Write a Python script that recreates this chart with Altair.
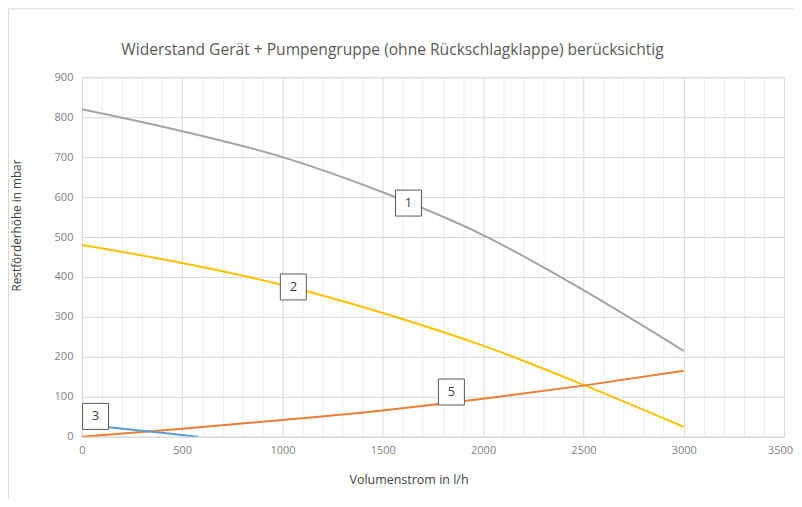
import altair as alt
import pandas as pd

# Flow rate (l/h) sample points
flow = [0, 500, 1000, 1500, 2000, 2500, 3000]
curve1 = [820, 765, 700, 612, 505, 367, 215]
curve2 = [480, 435, 380, 310, 228, 130, 25]
curve5 = [0, 20, 42, 66, 95, 128, 165]
flow3 = [0, 300, 580]
curve3 = [31, 15, 0]

label_text = ["1", "2", "3", "5"]
label_x = [1628, 1054, 68, 1842]
label_y = [585, 375, 51, 112]

title_text = "Widerstand Gerät + Pumpengruppe (ohne Rückschlagklappe) berücksichtig"

series_names = ["1", "2", "5"]
rows = []
for name, vals in zip(series_names, [curve1, curve2, curve5]):
    for f, v in zip(flow, vals):
        rows.append({"flow": f, "head": v, "series": name})
for f, v in zip(flow3, curve3):
    rows.append({"flow": f, "head": v, "series": "3"})
df = pd.DataFrame(rows)
labels = pd.DataFrame({"t": label_text, "flow": label_x, "head": label_y})

FONT = "Open Sans"
grid_cond = {"condition": {"test": "datum.value % 500 === 0", "value": "#d9d9d9"}, "value": "#ededed"}
last_off = {"condition": {"test": "datum.value === 3500", "value": -4}, "value": 0}

xscale = alt.Scale(domain=[0, 3500], nice=False)
yscale = alt.Scale(domain=[0, 900], nice=False)

xaxis = alt.Axis(values=list(range(0, 3600, 100)),
                 labelExpr="datum.value % 500 === 0 ? datum.label : ''",
                 format="d", grid=True, gridColor=grid_cond, ticks=False,
                 domainColor="#d9d9d9", labelColor="#7f7f7f", labelFontSize=11,
                 labelFont=FONT, labelPadding=8, labelOverlap=False, labelFlush=False,
                 labelOffset=last_off,
                 title="Volumenstrom in l/h", titleFont=FONT, titleFontSize=12.5,
                 titleFontWeight="normal", titleColor="#404040",
                 titleX=327, titleY=43, titleBaseline="middle")
yaxis = alt.Axis(values=list(range(0, 1000, 100)), grid=True, gridColor="#d9d9d9",
                 ticks=False, domain=False, labelColor="#7f7f7f", labelFontSize=11,
                 labelFont=FONT, labelPadding=9, labelOverlap=False, labelFlush=False,
                 title="Restförderhöhe in mbar", titleFont=FONT, titleFontSize=11.8,
                 titleFontWeight="normal", titleColor="#404040",
                 titleX=-65, titleY=148, titleBaseline="middle", titleAngle=270)

colors = alt.Scale(domain=["1", "2", "3", "5"],
                   range=["#A5A5A5", "#FFC000", "#5B9BD5", "#ED7D31"])

X = alt.X("flow:Q", scale=xscale, axis=xaxis)
Y = alt.Y("head:Q", scale=yscale, axis=yaxis)

lines = alt.Chart(df).mark_line(strokeWidth=2, interpolate="monotone", clip=True).encode(
    x=X, y=Y,
    color=alt.Color("series:N", scale=colors, legend=None),
    detail="series:N",
)

one = pd.DataFrame({"a": [0]})
frame_left = alt.Chart(one).mark_rule(color="#d9d9d9", strokeWidth=1, clip=False).encode(
    x=alt.value(-73.5), y=alt.value(-68.5), y2=alt.value(440))
frame_top = alt.Chart(one).mark_rule(color="#d9d9d9", strokeWidth=1, clip=False).encode(
    x=alt.value(-73.5), x2=alt.value(730), y=alt.value(-68.5))

title = alt.Chart(pd.DataFrame({"t": [title_text]})).mark_text(
    font=FONT, fontSize=15.6, color="#595959", align="center", baseline="middle"
).encode(x=alt.value(311), y=alt.value(-27), text="t:N")

boxes = alt.Chart(labels).mark_point(shape="square", size=26 * 26, filled=True,
                                     fill="white", stroke="#595959", strokeWidth=1,
                                     opacity=1).encode(x=X, y=Y)
texts = alt.Chart(labels).mark_text(font=FONT, fontSize=13, color="#404040").encode(
    x=X, y=Y, text="t:N")

chart = alt.layer(frame_left, frame_top, lines, boxes, texts, title).properties(
    width=703, height=360,
    autosize=alt.AutoSizeParams(type="none"),
    padding={"left": 74, "top": 69, "right": 10, "bottom": 62},
).configure_view(stroke=None).configure_axis(labelOverlap=False).configure(background="white")

chart.save("out.html", embed_options={"renderer": "svg", "actions": False})
